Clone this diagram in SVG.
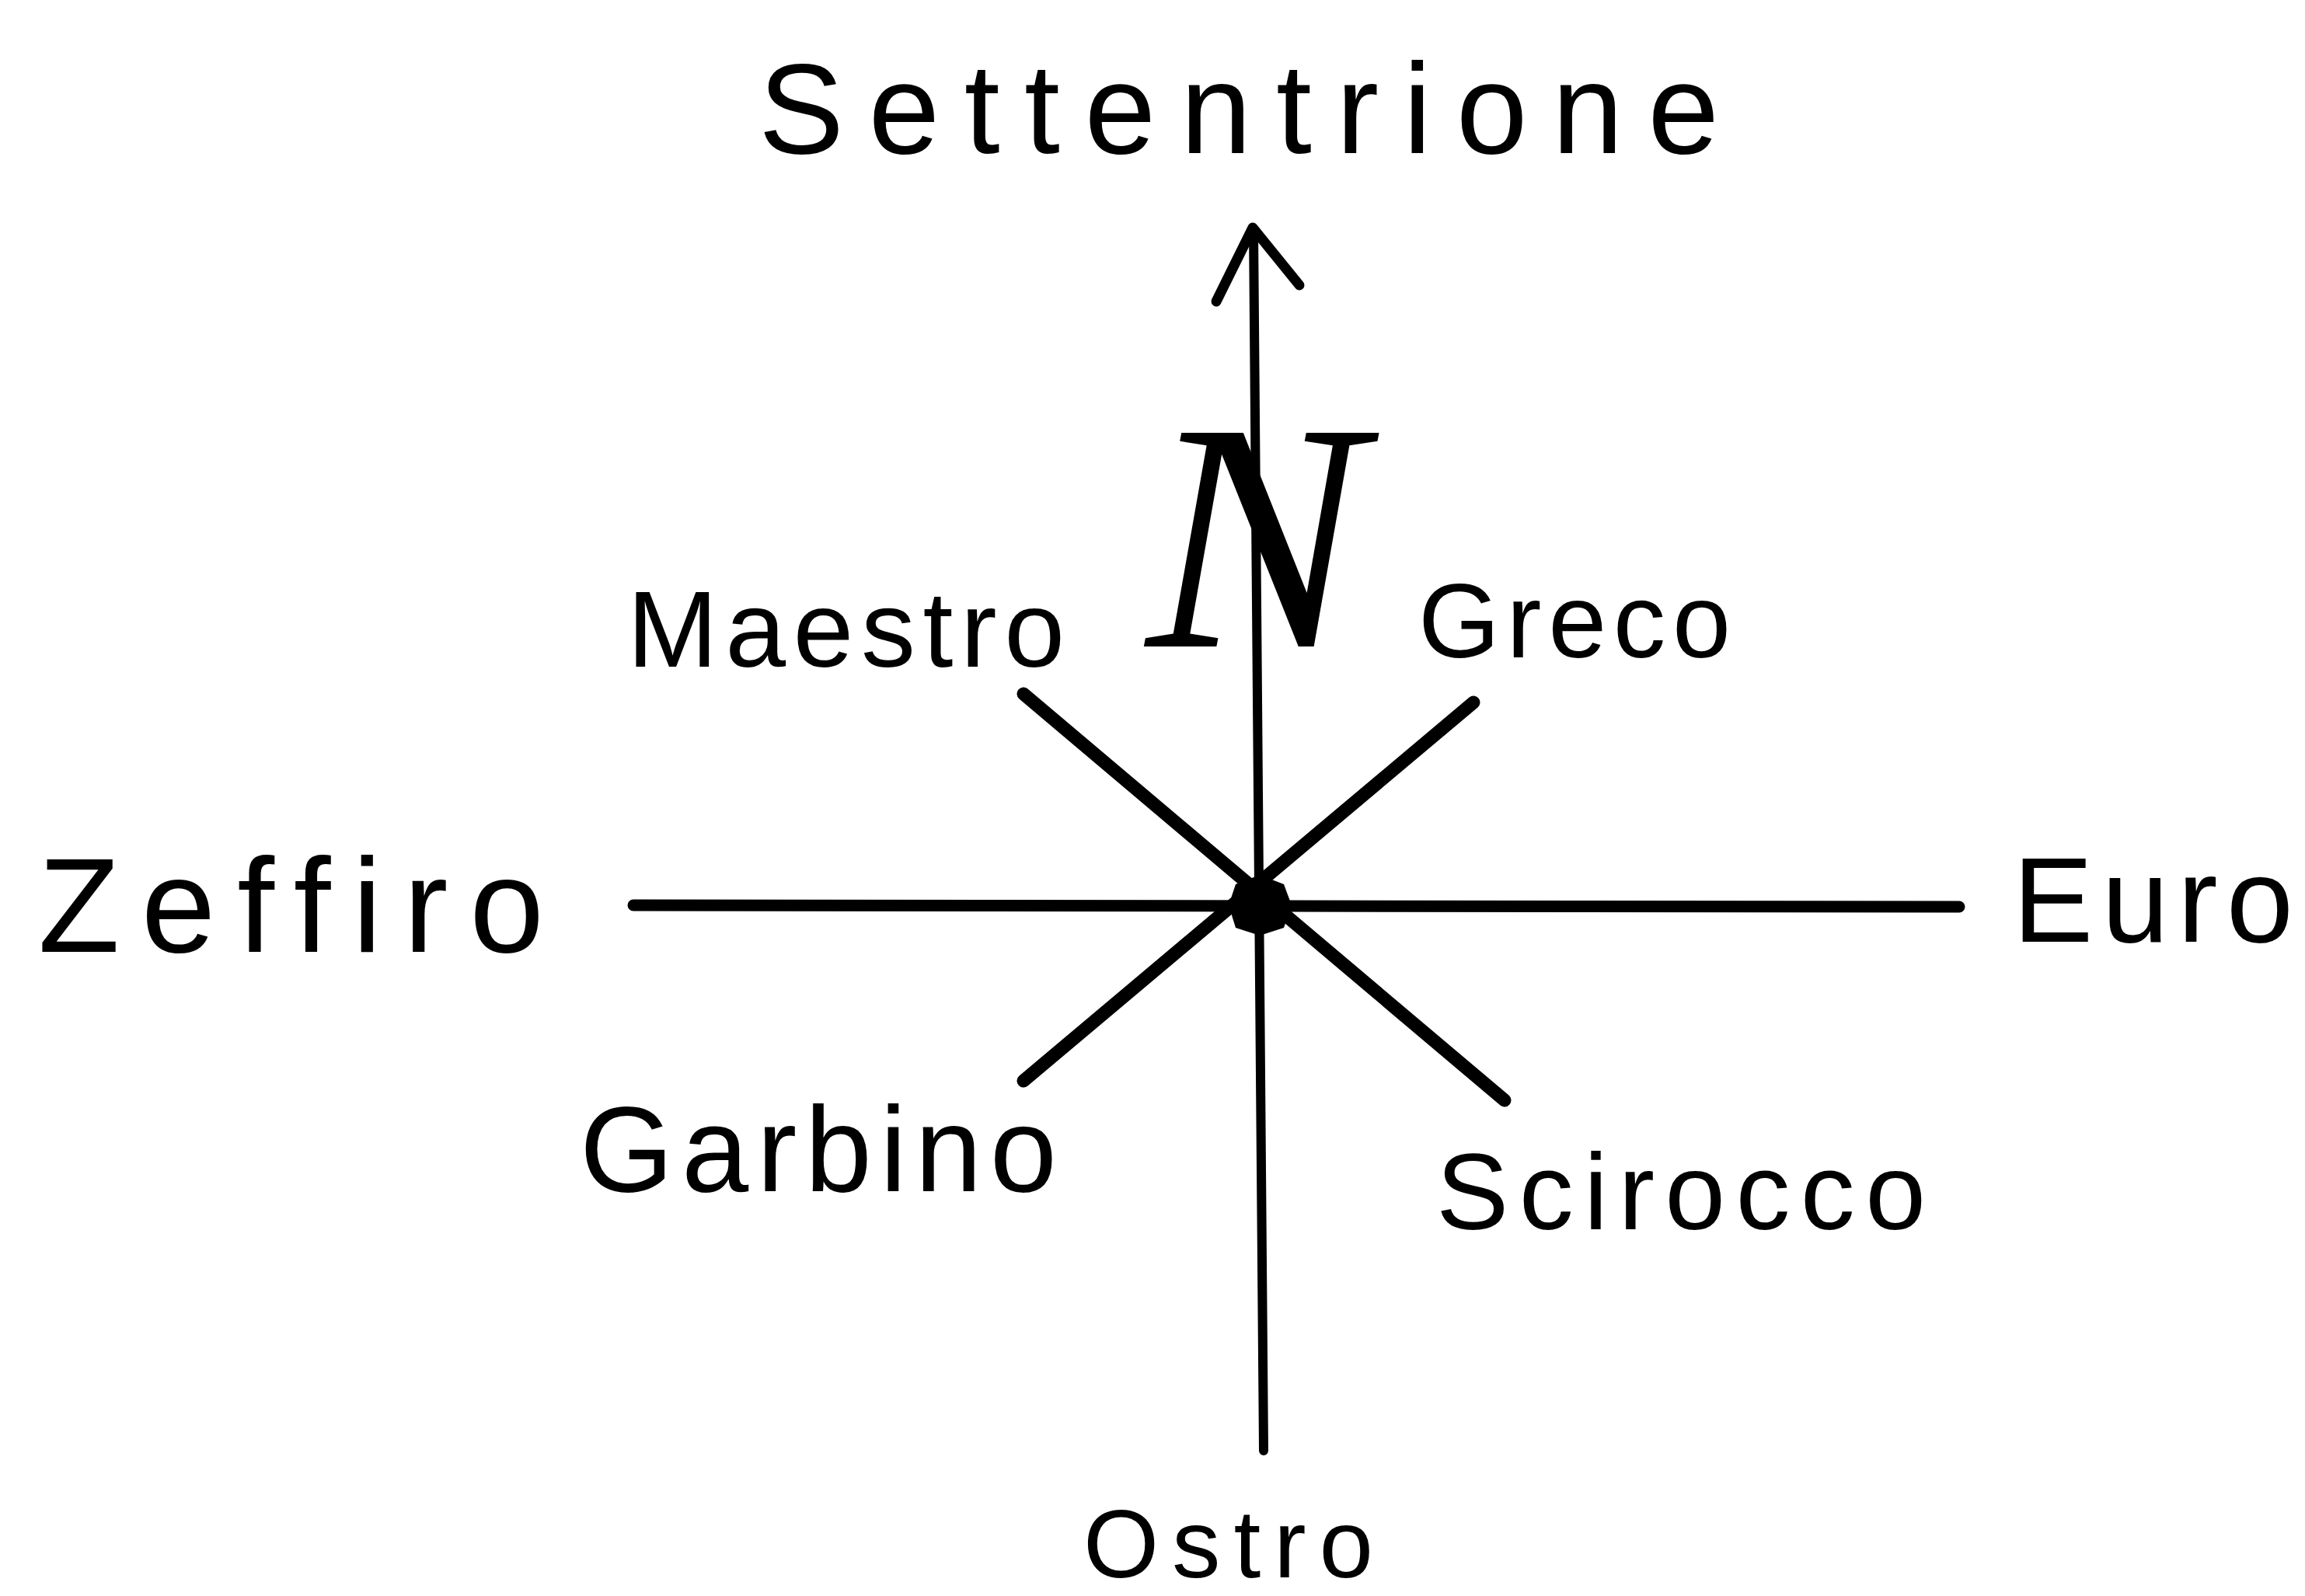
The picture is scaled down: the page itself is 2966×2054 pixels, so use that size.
<svg xmlns="http://www.w3.org/2000/svg" width="2966" height="2054" viewBox="0 0 2966 2054">
  <style>
    .lbl { font-family: "Liberation Sans", "DejaVu Sans", sans-serif; fill: #000; }
    .ln { stroke: #000; fill: none; stroke-linecap: round; stroke-linejoin: round; }
    .big { font-family: "Liberation Serif", "DejaVu Serif", serif; font-style: italic; fill: #000; }
  </style>
  <rect width="2966" height="2054" fill="#fff"/>
  <g id="connectors">
    <line class="ln" x1="1613" y1="295" x2="1626" y2="1867" stroke-width="12"/>
    <polyline class="ln" points="1565,388 1612,293 1672,367" stroke-width="13"/>
    <line class="ln" x1="815" y1="1165" x2="2521" y2="1167" stroke-width="15"/>
    <line class="ln" x1="1317" y1="893" x2="1936" y2="1416" stroke-width="17"/>
    <line class="ln" x1="1896" y1="904" x2="1317" y2="1391" stroke-width="17"/>
    <polygon id="center" points="1621,1126 1652,1138 1662,1165 1652,1194 1621,1204 1590,1194 1581,1165 1590,1138" fill="#000"/>
  </g>
  <g id="node-N"><text class="big" x="1615" y="832" font-size="420" text-anchor="middle">N</text></g>
  <g id="node-settentrione"><text class="lbl" x="976" y="197" font-size="165" textLength="1236" lengthAdjust="spacing">Settentrione</text></g>
  <g id="node-zeffiro"><text class="lbl" x="49" y="1225" font-size="172" textLength="651" lengthAdjust="spacing">Zeffiro</text></g>
  <g id="node-euro"><text class="lbl" x="2590" y="1212" font-size="155" textLength="361" lengthAdjust="spacing">Euro</text></g>
  <g id="node-maestro"><text class="lbl" x="807" y="858" font-size="140" textLength="563" lengthAdjust="spacing">Maestro</text></g>
  <g id="node-greco"><text class="lbl" x="1825" y="846" font-size="135" textLength="402" lengthAdjust="spacing">Greco</text></g>
  <g id="node-garbino"><text class="lbl" x="746" y="1533" font-size="155" textLength="614" lengthAdjust="spacing">Garbino</text></g>
  <g id="node-scirocco"><text class="lbl" x="1848" y="1582" font-size="140" textLength="630" lengthAdjust="spacing">Scirocco</text></g>
  <g id="node-ostro"><text class="lbl" x="1394" y="2030" font-size="125" textLength="373" lengthAdjust="spacing">Ostro</text></g>
</svg>
